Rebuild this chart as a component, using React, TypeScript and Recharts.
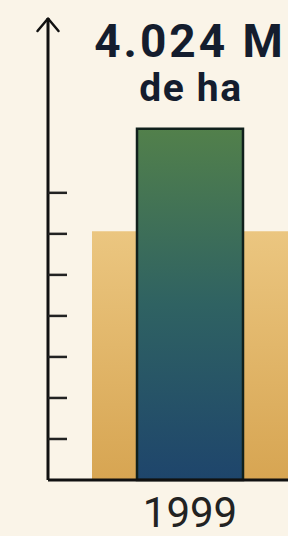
import React from 'react';
import { BarChart, Bar, XAxis, YAxis } from 'recharts';

const years = ['1999'];
const totalArea = [4.024];
const backgroundArea = [2.85];
const labelLines = ['4.024 M', 'de ha'];
const yTicks = [0.47, 0.94, 1.41, 1.88, 2.35, 2.82, 3.29];
const yMax = 5.27;

const data = years.map((y, i) => ({ year: y, total: totalArea[i], back: backgroundArea[i] }));

const renderLabel = (props: any) => {
  const { x, y, width } = props;
  const cx = x + width / 2;
  return (
    <g>
      <text x={cx} y={y - 72} textAnchor="middle" fontFamily="Roboto" fontWeight={700} fontSize={46} letterSpacing={3} fill="#141d2e">
        {labelLines[0]}
      </text>
      <text x={cx + 1} y={y - 28} textAnchor="middle" fontFamily="Roboto" fontWeight={700} fontSize={39} letterSpacing={1.6} fill="#141d2e">
        {labelLines[1]}
      </text>
    </g>
  );
};

const renderTick = (props: any) => {
  const { x, y, payload } = props;
  return (
    <text x={x} y={y + 47} textAnchor="middle" fontFamily="Roboto" fontWeight={400} fontSize={42} fill="#222">
      {payload.value}
    </text>
  );
};

const emptyTick = () => <g />;

export default function App() {
  return (
    <div style={{ position: 'absolute', left: 0, top: 0, width: 288, height: 536, background: '#faf4e8', overflow: 'hidden' }}>
      <BarChart width={332} height={536} data={data} barCategoryGap={0} margin={{ top: 20, right: 0, bottom: 0, left: 48 }}>
        <defs>
          <linearGradient id="gGreen" x1="0" y1="0" x2="0" y2="1">
            <stop offset="0%" stopColor="#52804b" />
            <stop offset="50%" stopColor="#2f6262" />
            <stop offset="100%" stopColor="#1e456c" />
          </linearGradient>
          <linearGradient id="gTan" x1="0" y1="0" x2="0" y2="1">
            <stop offset="0%" stopColor="#ebc680" />
            <stop offset="100%" stopColor="#d7a552" />
          </linearGradient>
        </defs>
        <XAxis
          xAxisId="front"
          dataKey="year"
          height={56}
          axisLine={{ stroke: '#111', strokeWidth: 3 }}
          tickLine={false}
          tickSize={0}
          tickMargin={0}
          tick={renderTick}
        />
        <XAxis xAxisId="back" dataKey="year" hide height={0} />
        <YAxis
          domain={[0, yMax]}
          ticks={yTicks}
          mirror
          tick={emptyTick}
          tickSize={19}
          axisLine={{ stroke: '#111', strokeWidth: 3 }}
          tickLine={{ stroke: '#222', strokeWidth: 2.5 }}
        />
        <Bar xAxisId="back" dataKey="back" barSize={196} fill="url(#gTan)" isAnimationActive={false} />
        <Bar
          xAxisId="front"
          dataKey="total"
          barSize={106}
          fill="url(#gGreen)"
          stroke="#10201c"
          strokeWidth={2.5}
          isAnimationActive={false}
          label={renderLabel}
        />
      </BarChart>
      <svg width={288} height={536} style={{ position: 'absolute', left: 0, top: 0, pointerEvents: 'none' }}>
        <line x1={48} y1={18} x2={48} y2={22} stroke="#111" strokeWidth={3} />
        <path d="M37.5,31 L48,18.5 L58.5,31" fill="none" stroke="#111" strokeWidth={2.5} strokeLinecap="round" strokeLinejoin="round" />
      </svg>
    </div>
  );
}
